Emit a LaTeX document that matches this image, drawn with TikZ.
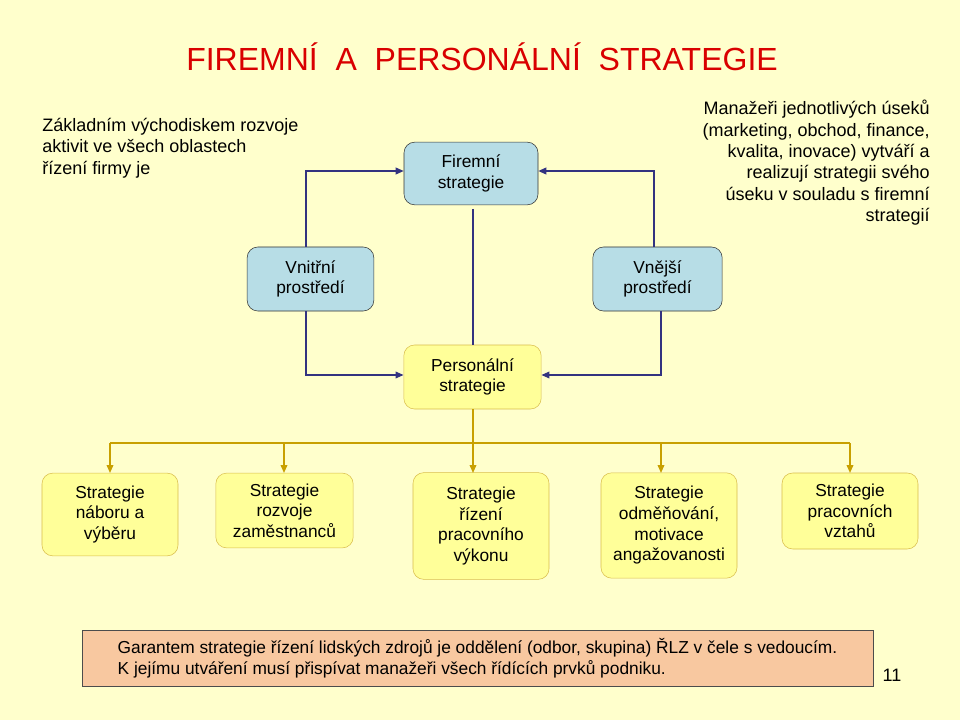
\documentclass[tikz,border=0pt]{standalone}
\usepackage{fontspec}
\setmainfont{Liberation Sans}
\usetikzlibrary{arrows.meta}
\definecolor{bg}{HTML}{FFFFCC}
\definecolor{blu}{HTML}{B7DDE6}
\definecolor{yel}{HTML}{FFFF99}
\definecolor{nav}{HTML}{333380}
\definecolor{gold}{HTML}{C8A000}
\definecolor{peach}{HTML}{F8C8A0}
\tikzset{
 bluebox/.style={draw=black!80,fill=blu,rounded corners=8pt,align=center,font=\fontsize{13}{15.5}\selectfont,inner sep=0pt},
 yelbox/.style={draw=gold!70,fill=yel,rounded corners=8pt,align=center,font=\fontsize{13}{15.5}\selectfont,inner sep=0pt},
 navar/.style={draw=nav,line width=1.1pt,-{Triangle[length=6pt,width=5pt]}},
 goldar/.style={draw=gold,line width=1.1pt,-{Triangle[length=6pt,width=5pt]}},
 txt/.style={font=\fontsize{13.5}{16}\selectfont,inner sep=0pt}
}
\begin{document}
\begin{tikzpicture}[x=0.75pt,y=-0.75pt]
\fill[bg] (0,0) rectangle (960,720);
\useasboundingbox (0,0) rectangle (960,720);
\node[font=\fontsize{24}{28}\selectfont,text=red!85!black] (title) at (482,57) {FIREMNÍ\ \ A\ \ PERSONÁLNÍ\ \ STRATEGIE};
\node[txt,align=left,anchor=north west] (lt) at (42,118) {Základním východiskem rozvoje\\aktivit ve všech oblastech\\řízení firmy je};
\node[txt,align=right,anchor=north east] (rt) at (930,100) {Manažeři jednotlivých úseků\\(marketing, obchod, finance,\\kvalita, inovace) vytváří a\\realizují strategii svého\\úseku v souladu s firemní\\strategií};
\node[bluebox,minimum width=100.5pt,minimum height=47pt] (fs) at (471,173.5) {Firemní\\strategie};
\node[bluebox,minimum width=95pt,minimum height=48pt] (vn) at (310.5,279) {Vnitřní\\prostředí};
\node[bluebox,minimum width=97pt,minimum height=48pt] (ve) at (657.5,279) {Vnější\\prostředí};
\node[yelbox,minimum width=103pt,minimum height=48pt] (ps) at (472.5,377) {Personální\\strategie};
\node[yelbox,minimum width=102pt,minimum height=62pt] (b1) at (110,514.5) {Strategie\\náboru a\\výběru};
\node[yelbox,minimum width=103pt,minimum height=56pt] (b2) at (284.5,510.5) {Strategie\\rozvoje\\zaměstnanců};
\node[yelbox,minimum width=102pt,minimum height=80pt] (b3) at (481,526) {Strategie\\řízení\\pracovního\\výkonu};
\node[yelbox,minimum width=102pt,minimum height=79pt] (b4) at (669,525.5) {Strategie\\odměňování,\\motivace\\angažovanosti};
\node[yelbox,minimum width=102pt,minimum height=57pt] (b5) at (850,511) {Strategie\\pracovních\\vztahů};
\node[draw=black!70,fill=peach,minimum width=593pt,minimum height=42pt,align=left,font=\fontsize{13}{16}\selectfont,inner sep=0pt] (bt) at (477.5,658) {Garantem strategie řízení lidských zdrojů je oddělení (odbor, skupina) ŘLZ v čele s vedoucím.\\K jejímu utváření musí přispívat manažeři všech řídících prvků podniku.\hfill\null};
\node[txt] (pg) at (892,675) {11};
\coordinate (v1) at (306,171); \coordinate (v2) at (306,375);
\coordinate (e1) at (654,171); \coordinate (e2) at (661,375);
\draw[navar] (vn.north -| v1) -- (v1) -- (fs.west |- v1);
\draw[navar] (vn.south -| v2) -- (v2) -- (ps.west |- v2);
\draw[navar] (ve.north -| e1) -- (e1) -- (fs.east |- e1);
\draw[navar] (ve.south -| e2) -- (e2) -- (ps.east |- e2);
\draw[nav,line width=1.1pt] (473,209) -- (473,345);
\coordinate (busL) at (110,443); \coordinate (busR) at (850,443); \coordinate (busM) at (473,443);
\draw[gold,line width=1.1pt] (473,409) -- (busM);
\draw[gold,line width=1.1pt] (busL) -- (busR);
\draw[goldar] (busL) -- (110,473);
\draw[goldar] (284,443) -- (284,473);
\draw[goldar] (busM) -- (473,473);
\draw[goldar] (661,443) -- (661,473);
\draw[goldar] (busR) -- (850,473);
\end{tikzpicture}
\end{document}
